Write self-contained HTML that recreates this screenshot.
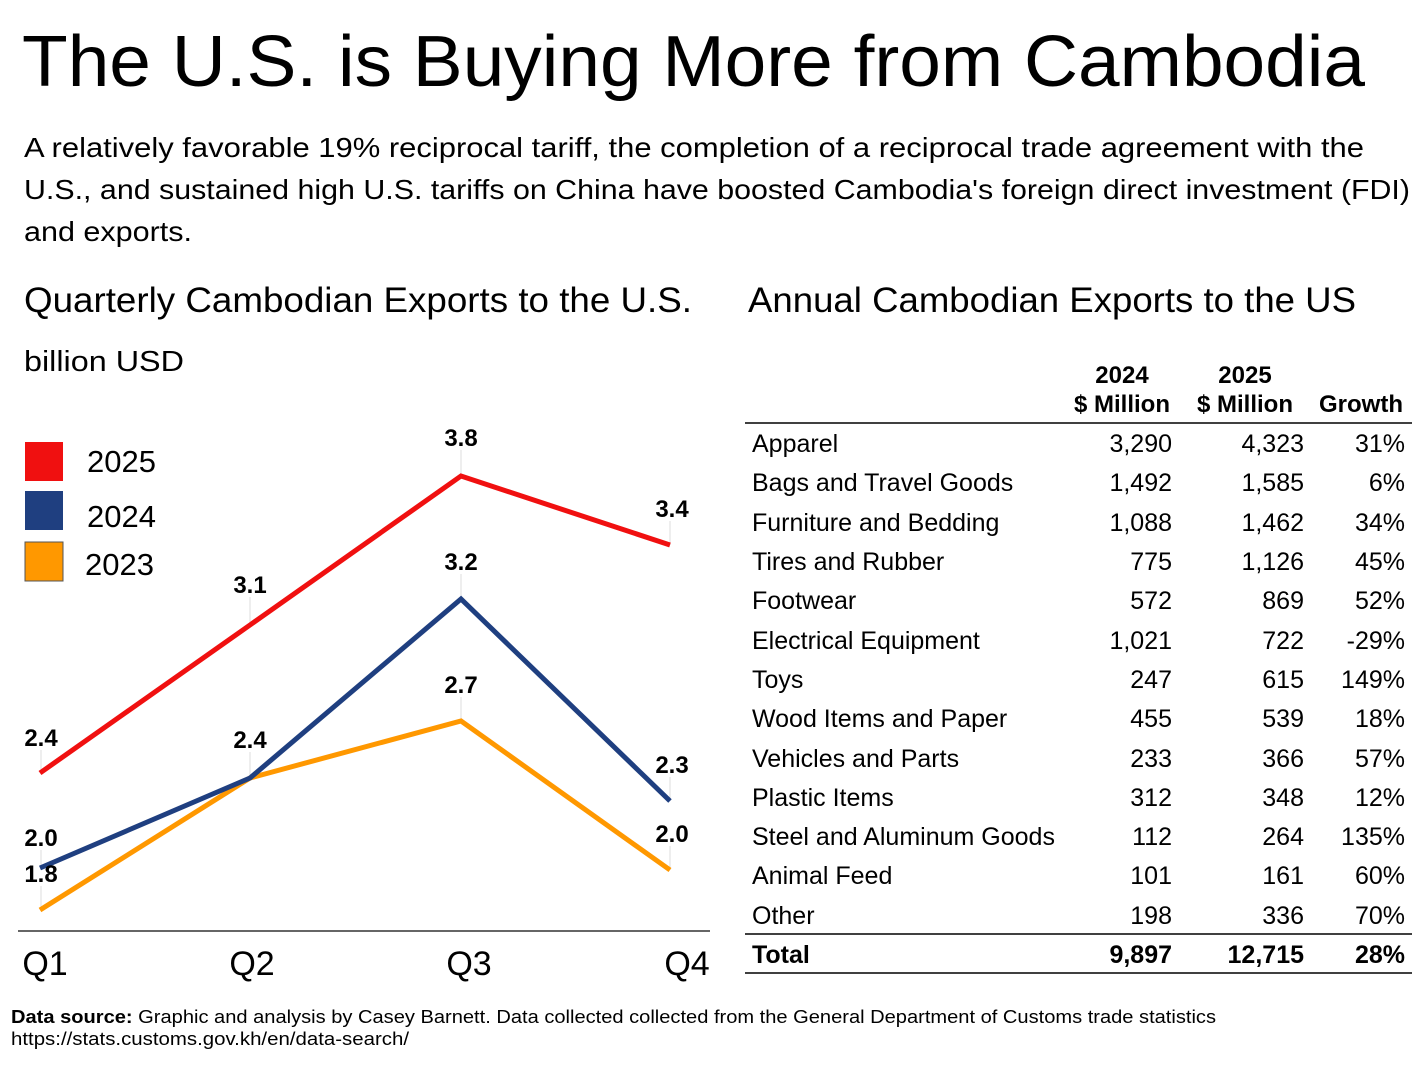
<!DOCTYPE html>
<html><head><meta charset="utf-8">
<style>
html,body{margin:0;padding:0;background:#fff;}
svg{display:block;}
text{font-family:"Liberation Sans",Arial,sans-serif;fill:#000;}
.t{font-size:25px;}
</style></head><body>
<svg width="1428" height="1066" viewBox="0 0 1428 1066" xmlns="http://www.w3.org/2000/svg">
<text x="22" y="86" font-size="72" textLength="1343" lengthAdjust="spacingAndGlyphs">The U.S. is Buying More from Cambodia</text>
<text x="24" y="157" font-size="28" textLength="1340" lengthAdjust="spacingAndGlyphs">A relatively favorable 19% reciprocal tariff, the completion of a reciprocal trade agreement with the</text>
<text x="24" y="199" font-size="28" textLength="1386" lengthAdjust="spacingAndGlyphs">U.S., and sustained high U.S. tariffs on China have boosted Cambodia's foreign direct investment (FDI)</text>
<text x="24" y="241" font-size="28" textLength="168" lengthAdjust="spacingAndGlyphs">and exports.</text>
<text x="24" y="312" font-size="35" textLength="668" lengthAdjust="spacingAndGlyphs">Quarterly Cambodian Exports to the U.S.</text>
<text x="748" y="312" font-size="35" textLength="608" lengthAdjust="spacingAndGlyphs">Annual Cambodian Exports to the US</text>
<text x="24" y="371" font-size="29" textLength="160" lengthAdjust="spacingAndGlyphs">billion USD</text>

<g stroke="#ddd" stroke-width="1">
<line x1="461" y1="450" x2="461" y2="476"/><line x1="670" y1="521" x2="670" y2="545"/>
<line x1="250" y1="597" x2="250" y2="625"/><line x1="461" y1="574" x2="461" y2="599"/>
<line x1="461" y1="697" x2="461" y2="721"/><line x1="41" y1="750" x2="41" y2="773"/>
<line x1="250" y1="752" x2="250" y2="778"/><line x1="670" y1="777" x2="670" y2="801"/>
<line x1="41" y1="850" x2="41" y2="868"/><line x1="670" y1="846" x2="670" y2="870"/>
<line x1="41" y1="886" x2="41" y2="910"/>
</g>
<line x1="18" y1="931" x2="710" y2="931" stroke="#333" stroke-width="1.5"/>
<polyline points="40,910 250,778 461,721 670,870" fill="none" stroke="#ff9800" stroke-width="5"/>
<polyline points="40,868 250,778 461,599 670,801" fill="none" stroke="#1f3f80" stroke-width="5"/>
<polyline points="40,773 250,625 461,476 670,545" fill="none" stroke="#f01010" stroke-width="5"/>
<g font-size="24" font-weight="bold" text-anchor="middle">
<text x="461" y="446">3.8</text>
<text x="672" y="517">3.4</text>
<text x="250" y="593">3.1</text>
<text x="461" y="570">3.2</text>
<text x="461" y="693">2.7</text>
<text x="41" y="746">2.4</text>
<text x="250" y="748">2.4</text>
<text x="672" y="773">2.3</text>
<text x="41" y="846">2.0</text>
<text x="672" y="842">2.0</text>
<text x="41" y="882">1.8</text>
</g>
<g font-size="34" text-anchor="middle">
<text x="45" y="975">Q1</text><text x="252" y="975">Q2</text>
<text x="469" y="975">Q3</text><text x="687" y="975">Q4</text>
</g>
<rect x="25" y="442" width="38" height="39" fill="#f01010"/>
<rect x="25" y="491" width="38" height="39" fill="#1f3f80"/>
<rect x="25" y="542" width="38" height="39" fill="#ff9800" stroke="#555" stroke-width="1"/>
<text x="87" y="472" font-size="31">2025</text>
<text x="87" y="527" font-size="31">2024</text>
<text x="85" y="575" font-size="31">2023</text>

<g font-size="24" font-weight="bold" text-anchor="middle">
<text x="1122" y="383">2024</text>
<text x="1122" y="412">$ Million</text>
<text x="1245" y="383">2025</text>
<text x="1245" y="412">$ Million</text>
<text x="1361" y="412">Growth</text>
</g>
<line x1="745" y1="423" x2="1412" y2="423" stroke="#000" stroke-width="1.5"/>
<line x1="745" y1="934" x2="1412" y2="934" stroke="#000" stroke-width="1.5"/>
<line x1="745" y1="973" x2="1412" y2="973" stroke="#000" stroke-width="1.5"/>
<g class="t">
<text x="752" y="452">Apparel</text><text x="1172" y="452" text-anchor="end">3,290</text><text x="1304" y="452" text-anchor="end">4,323</text><text x="1405" y="452" text-anchor="end">31%</text>
<text x="752" y="491">Bags and Travel Goods</text><text x="1172" y="491" text-anchor="end">1,492</text><text x="1304" y="491" text-anchor="end">1,585</text><text x="1405" y="491" text-anchor="end">6%</text>
<text x="752" y="531">Furniture and Bedding</text><text x="1172" y="531" text-anchor="end">1,088</text><text x="1304" y="531" text-anchor="end">1,462</text><text x="1405" y="531" text-anchor="end">34%</text>
<text x="752" y="570">Tires and Rubber</text><text x="1172" y="570" text-anchor="end">775</text><text x="1304" y="570" text-anchor="end">1,126</text><text x="1405" y="570" text-anchor="end">45%</text>
<text x="752" y="609">Footwear</text><text x="1172" y="609" text-anchor="end">572</text><text x="1304" y="609" text-anchor="end">869</text><text x="1405" y="609" text-anchor="end">52%</text>
<text x="752" y="649">Electrical Equipment</text><text x="1172" y="649" text-anchor="end">1,021</text><text x="1304" y="649" text-anchor="end">722</text><text x="1405" y="649" text-anchor="end">-29%</text>
<text x="752" y="688">Toys</text><text x="1172" y="688" text-anchor="end">247</text><text x="1304" y="688" text-anchor="end">615</text><text x="1405" y="688" text-anchor="end">149%</text>
<text x="752" y="727">Wood Items and Paper</text><text x="1172" y="727" text-anchor="end">455</text><text x="1304" y="727" text-anchor="end">539</text><text x="1405" y="727" text-anchor="end">18%</text>
<text x="752" y="767">Vehicles and Parts</text><text x="1172" y="767" text-anchor="end">233</text><text x="1304" y="767" text-anchor="end">366</text><text x="1405" y="767" text-anchor="end">57%</text>
<text x="752" y="806">Plastic Items</text><text x="1172" y="806" text-anchor="end">312</text><text x="1304" y="806" text-anchor="end">348</text><text x="1405" y="806" text-anchor="end">12%</text>
<text x="752" y="845">Steel and Aluminum Goods</text><text x="1172" y="845" text-anchor="end">112</text><text x="1304" y="845" text-anchor="end">264</text><text x="1405" y="845" text-anchor="end">135%</text>
<text x="752" y="884">Animal Feed</text><text x="1172" y="884" text-anchor="end">101</text><text x="1304" y="884" text-anchor="end">161</text><text x="1405" y="884" text-anchor="end">60%</text>
<text x="752" y="924">Other</text><text x="1172" y="924" text-anchor="end">198</text><text x="1304" y="924" text-anchor="end">336</text><text x="1405" y="924" text-anchor="end">70%</text>
<text x="752" y="963" font-weight="bold">Total</text><text x="1172" y="963" text-anchor="end" font-weight="bold">9,897</text><text x="1304" y="963" text-anchor="end" font-weight="bold">12,715</text><text x="1405" y="963" text-anchor="end" font-weight="bold">28%</text>
</g>
<text x="11" y="1023" font-size="18" textLength="1205" lengthAdjust="spacingAndGlyphs"><tspan font-weight="bold">Data source:</tspan> Graphic and analysis by Casey Barnett. Data collected collected from the General Department of Customs trade statistics</text>
<text x="11" y="1045" font-size="18" textLength="398" lengthAdjust="spacingAndGlyphs">https://stats.customs.gov.kh/en/data-search/</text>
</svg>
</body></html>
